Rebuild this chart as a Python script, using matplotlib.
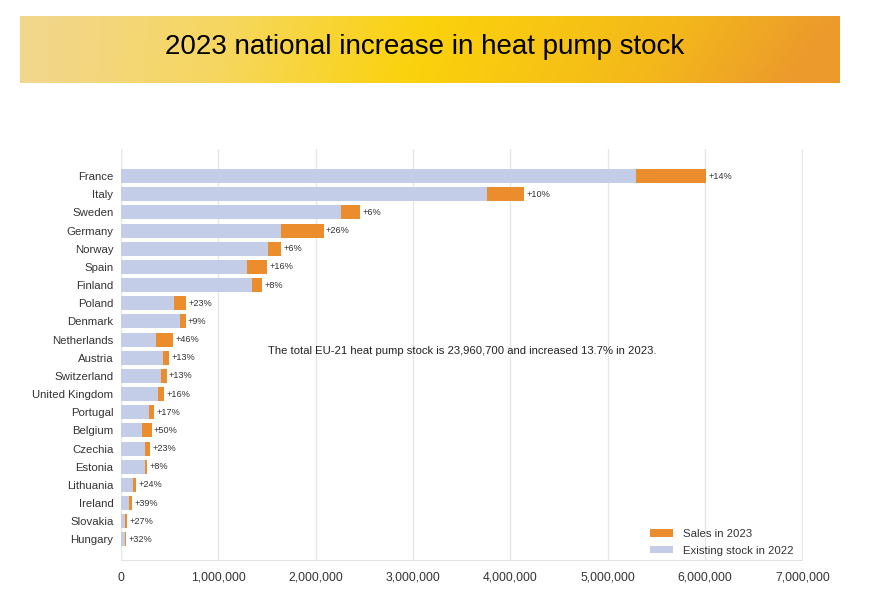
import numpy as np
import matplotlib
matplotlib.use("Agg")
from matplotlib import pyplot as plt
from matplotlib.colors import LinearSegmentedColormap
from matplotlib.ticker import FuncFormatter

plt.rcParams['font.family'] = ['Liberation Sans', 'DejaVu Sans']

# data
countries = ["France", "Italy", "Sweden", "Germany", "Norway", "Spain", "Finland",
             "Poland", "Denmark", "Netherlands", "Austria", "Switzerland",
             "United Kingdom", "Portugal", "Belgium", "Czechia", "Estonia",
             "Lithuania", "Ireland", "Slovakia", "Hungary"]
stock_2022 = [5290000, 3760000, 2260000, 1640000, 1510000, 1290000, 1350000,
              544000, 602000, 362000, 434000, 414000,
              380000, 290000, 212000, 246000, 246000,
              126000, 82000, 44000, 41000]
sales_2023 = [720000, 380000, 200000, 440000, 137000, 212000, 103000,
              123000, 61000, 172000, 55000, 54000,
              58000, 49000, 102000, 55000, 21000,
              31000, 35000, 14000, 14000]
pct_labels = ["+14%", "+10%", "+6%", "+26%", "+6%", "+16%", "+8%",
              "+23%", "+9%", "+46%", "+13%", "+13%",
              "+16%", "+17%", "+50%", "+23%", "+8%",
              "+24%", "+39%", "+27%", "+32%"]
note = "The total EU-21 heat pump stock is 23,960,700 and increased 13.7% in 2023."

blue = "#c3cde7"
orange = "#eb8d2c"
text_col = "#333333"

W, H = 877, 608
fig = plt.figure(figsize=(W / 100, H / 100), dpi=100)

# title banner with gradient
bx = fig.add_axes([20 / W, 1 - 83 / H, 820 / W, 67 / H])
cmap = LinearSegmentedColormap.from_list(
    "banner", [(0.0, "#f2d68f"), (0.25, "#f6d760"), (0.5, "#fbd20c"),
               (0.8, "#f4b91a"), (1.0, "#ec9a2c")])
gx = np.linspace(0, 1, 400)
gy = np.linspace(0, 1, 40)
grad = np.clip(gx[None, :] + 0.06 * gy[:, None] * gx[None, :], 0, 1)
bx.imshow(grad, cmap=cmap, aspect="auto", extent=[0, 1, 0, 1], origin="upper")
bx.set_axis_off()
fig.text(425 / W, 1 - 47 / H, "2023 national increase in heat pump stock",
         ha="center", va="center", fontsize=20, color="black")

# main chart
ax = fig.add_axes([121 / W, 1 - 560 / H, (802.5 - 121) / W, (560 - 149) / H])
y = np.arange(len(countries))
ax.barh(y, stock_2022, height=0.77, color=blue, label="Existing stock in 2022", zorder=2)
ax.barh(y, sales_2023, left=stock_2022, height=0.77, color=orange,
        label="Sales in 2023", zorder=2)

for i, lab in enumerate(pct_labels):
    ax.text(stock_2022[i] + sales_2023[i] + 25000, i, lab, va="center", ha="left",
            fontsize=6.6, color=text_col)

ax.text(1510000, 9.63, note, va="center", ha="left", fontsize=8.1, color="#222222")

ax.set_xlim(0, 7000000)
ax.set_ylim(21.13, -1.49)
ax.set_yticks(y)
ax.set_yticklabels(countries, fontsize=8.2, color=text_col)
ax.set_xticks(np.arange(0, 7000001, 1000000))
ax.xaxis.set_major_formatter(FuncFormatter(lambda v, p: f"{int(v):,}"))
ax.tick_params(axis="x", labelsize=8.8, colors=text_col, length=0, pad=8.5)
ax.tick_params(axis="y", length=0, pad=5.5)
ax.grid(axis="x", color="#e6e6e6", linewidth=1, zorder=0)
for s in ["top", "left", "right"]:
    ax.spines[s].set_visible(False)
ax.spines["bottom"].set_color("#e3e3e3")

handles, labels = ax.get_legend_handles_labels()
ax.legend(handles[::-1], labels[::-1], loc="lower right", bbox_to_anchor=(1.002, -0.014),
          frameon=False, fontsize=8.2, handlelength=2.0, handleheight=0.6,
          labelspacing=0.57, handletextpad=0.9, labelcolor=text_col)

fig.savefig("out.png", dpi=100)
